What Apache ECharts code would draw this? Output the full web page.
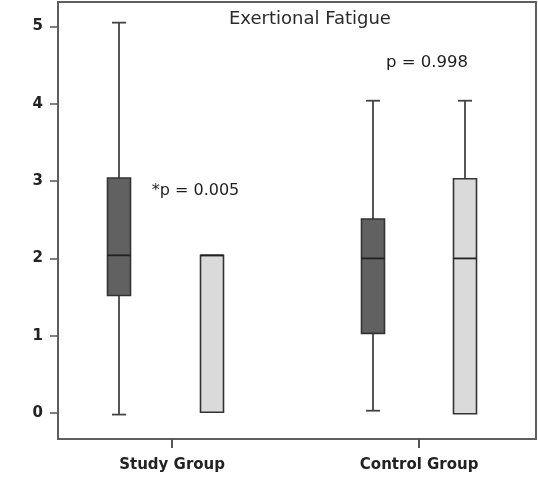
<!DOCTYPE html>
<html>
<head>
<meta charset="utf-8">
<script src="https://cdn.jsdelivr.net/npm/echarts@6/dist/echarts.min.js"></script>
<style>html,body{margin:0;padding:0;background:#fff}#c{width:538px;height:479px}</style>
</head>
<body>
<div id="c"></div>
<script>
// ---- data ----
const groups = ['Study Group', 'Control Group'];
const yTicks = [0, 1, 2, 3, 4, 5];
// [min, Q1, median, Q3, max]
const darkBoxes = [[-0.02, 1.52, 2.04, 3.04, 5.05], [0.03, 1.03, 2.0, 2.51, 4.04]];
const lightBoxes = [[0.01, 0.01, 2.04, 2.04, 2.04], [-0.01, -0.01, 2.0, 3.03, 4.04]];
const titleText = 'Exertional Fatigue';
const pStudy = '*p = 0.005';
const pControl = 'p = 0.998';

// ---- layout (positions on the x value axis, group ticks at 1 and 2) ----
const darkX = [0.786, 1.812];
const lightX = [1.163, 2.186];

const font = 'DejaVu Sans';
const boxW = 23, capW = 14;

function buildData(boxes, xs) {
  return boxes.map((b, i) => [xs[i]].concat(b));
}

function renderBox(fill) {
  return function (params, api) {
    const x = api.value(0);
    const pMin = api.coord([x, api.value(1)]);
    const pQ1 = api.coord([x, api.value(2)]);
    const pMed = api.coord([x, api.value(3)]);
    const pQ3 = api.coord([x, api.value(4)]);
    const pMax = api.coord([x, api.value(5)]);
    const cx = Math.round(pMin[0]);
    const line = { stroke: '#444', lineWidth: 1.8 };
    const children = [];
    if (pMax[1] < pQ3[1] - 0.5) {
      children.push({ type: 'line', shape: { x1: cx, y1: pMax[1], x2: cx, y2: pQ3[1] }, style: line });
      children.push({ type: 'line', shape: { x1: cx - capW / 2, y1: pMax[1], x2: cx + capW / 2, y2: pMax[1] }, style: line });
    }
    if (pMin[1] > pQ1[1] + 0.5) {
      children.push({ type: 'line', shape: { x1: cx, y1: pQ1[1], x2: cx, y2: pMin[1] }, style: line });
      children.push({ type: 'line', shape: { x1: cx - capW / 2, y1: pMin[1], x2: cx + capW / 2, y2: pMin[1] }, style: line });
    }
    children.push({ type: 'rect', shape: { x: cx - boxW / 2, y: pQ3[1], width: boxW, height: pQ1[1] - pQ3[1] },
      style: { fill: fill, stroke: '#333', lineWidth: 1.6 } });
    children.push({ type: 'line', shape: { x1: cx - boxW / 2, y1: pMed[1], x2: cx + boxW / 2, y2: pMed[1] },
      style: { stroke: '#222', lineWidth: 1.8 } });
    return { type: 'group', children: children };
  };
}

const chart = echarts.init(document.getElementById('c'), null, { renderer: 'canvas' });
chart.setOption({
  animation: false,
  grid: { left: 58, right: 2, top: 2, bottom: 40, show: true, borderColor: '#5e5e5e', borderWidth: 2, backgroundColor: '#fff' },
  xAxis: {
    type: 'value', min: 0.538, max: 2.473,
    splitLine: { show: false },
    axisLine: { show: false, onZero: false },
    axisTick: { show: true, customValues: [1, 2], length: 9, inside: false, lineStyle: { color: '#555', width: 2 } },
    axisLabel: {
      customValues: [1, 2], formatter: v => groups[Math.round(v) - 1] || '',
      margin: 19, fontFamily: font, fontSize: 15, fontWeight: 'bold', color: '#222'
    }
  },
  yAxis: {
    type: 'value', min: -0.336, max: 5.317,
    splitLine: { show: false },
    axisLine: { show: false, onZero: false },
    axisTick: { show: true, customValues: yTicks, length: 8, lineStyle: { color: '#555', width: 1.5 } },
    axisLabel: { customValues: yTicks, margin: 15, fontFamily: font, fontSize: 15, fontWeight: 'bold', color: '#222' }
  },
  series: [
    { type: 'custom', renderItem: renderBox('#616161'), data: buildData(darkBoxes, darkX), encode: { x: 0, y: [1, 2, 3, 4, 5] }, clip: false },
    { type: 'custom', renderItem: renderBox('#dadada'), data: buildData(lightBoxes, lightX), encode: { x: 0, y: [1, 2, 3, 4, 5] }, clip: false }
  ],
  graphic: [
    { type: 'text', x: 229, y: 19, style: { text: titleText, fontFamily: font, fontSize: 18, fill: '#2a2a2a', align: 'left', verticalAlign: 'middle' } },
    { type: 'text', x: 427, y: 63, style: { text: pControl, fontFamily: font, fontSize: 16.5, fill: '#1e1e1e', align: 'center', verticalAlign: 'middle' } },
    { type: 'text', x: 195.5, y: 191, style: { text: pStudy, fontFamily: font, fontSize: 16, fill: '#1e1e1e', align: 'center', verticalAlign: 'middle' } }
  ]
});
</script>
</body>
</html>
